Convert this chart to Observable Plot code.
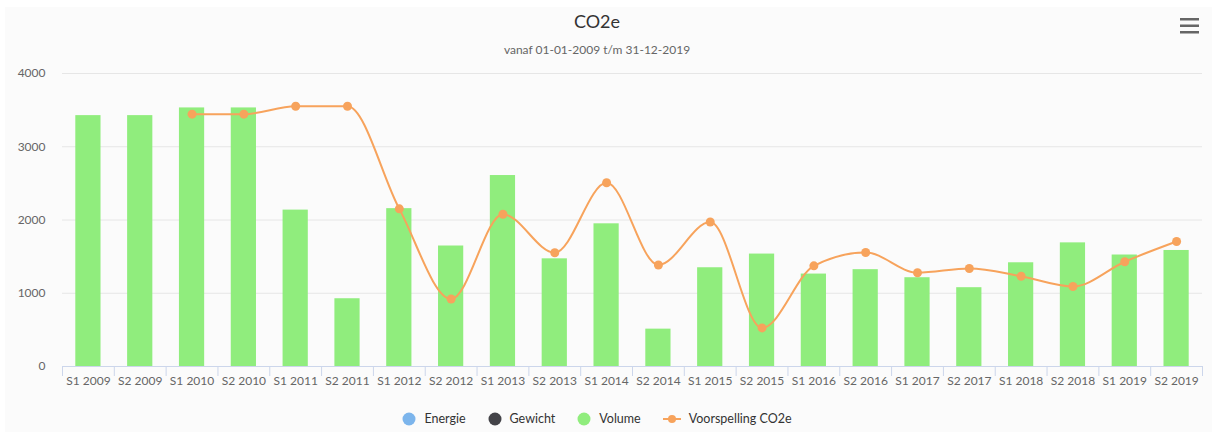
<!DOCTYPE html>
<html>
<head>
<meta charset="utf-8">
<script src="https://cdn.jsdelivr.net/npm/d3@7"></script>
<script src="https://cdn.jsdelivr.net/npm/@observablehq/plot@0.6"></script>
<style>
  html, body { margin: 0; padding: 0; background: #ffffff; width: 1212px; height: 432px; overflow: hidden; font-family: Lato, "Open Sans", sans-serif; }
  #frame { position: absolute; left: 5px; top: 7px; width: 1207px; height: 425px; background: #fbfbfb; }
  #title { position: absolute; left: 0; top: 10px; width: 1194px; text-align: center; font-size: 18px; color: #333333; }
  #subtitle { position: absolute; left: 0; top: 42px; width: 1194px; text-align: center; font-size: 12px; color: #666666; }
  #chart { position: absolute; left: 0; top: 60px; }
  #legend { position: absolute; left: 0; top: 411px; width: 1194px; display: flex; justify-content: center; align-items: center; font-size: 12.5px; color: #333333; }
  .item { display: flex; align-items: center; margin: 0 11px; }
  .item svg { margin-right: 8px; }
  #menu { position: absolute; left: 1180px; top: 17px; }
</style>
</head>
<body>
<div id="frame"></div>
<div id="title">CO2e</div>
<div id="subtitle">vanaf 01-01-2009 t/m 31-12-2019</div>
<svg id="menu" width="20" height="18"><rect x="0" y="1" width="19" height="2.5" fill="#666"/><rect x="0" y="7.5" width="19" height="2.5" fill="#666"/><rect x="0" y="14" width="19" height="2.5" fill="#666"/></svg>
<div id="chart"></div>
<div id="legend"></div>
<script>
const categories = ["S1 2009","S2 2009","S1 2010","S2 2010","S1 2011","S2 2011","S1 2012","S2 2012","S1 2013","S2 2013","S1 2014","S2 2014","S1 2015","S2 2015","S1 2016","S2 2016","S1 2017","S2 2017","S1 2018","S2 2018","S1 2019","S2 2019"];
const volume = [3425, 3425, 3530, 3530, 2135, 925, 2155, 1645, 2607, 1470, 1948, 510, 1348, 1535, 1262, 1322, 1212, 1076, 1416, 1688, 1522, 1584];
const forecast = [null, null, 3445, 3445, 3553, 3553, 2152, 922, 2078, 1553, 2508, 1386, 1972, 527, 1374, 1556, 1280, 1338, 1232, 1092, 1430, 1706];
const yTicks = [0, 1000, 2000, 3000, 4000];
const legendItems = [
  {name: "Energie", color: "#7cb5ec", type: "circle"},
  {name: "Gewicht", color: "#434348", type: "circle"},
  {name: "Volume", color: "#90ed7d", type: "circle"},
  {name: "Voorspelling CO2e", color: "#f7a35c", type: "line"}
];

const rows = categories.map((c, i) => ({cat: c, volume: volume[i]}));
const fRows = categories.map((c, i) => ({cat: c, value: forecast[i]})).filter(d => d.value != null);

const width = 1212, marginLeft = 62, marginRight = 10;
const bw = (width - marginLeft - marginRight) / categories.length;

const chart = Plot.plot({
  width, height: 340,
  marginTop: 13, marginBottom: 34, marginLeft, marginRight,
  style: {background: "transparent", fontFamily: "Lato, 'Open Sans', sans-serif", fontSize: "12px", overflow: "visible"},
  x: {type: "band", domain: categories, padding: 0, round: false, label: null},
  y: {domain: [0, 4000], label: null},
  marks: [
    Plot.ruleY(yTicks.slice(1), {stroke: "#e6e6e6", strokeWidth: 1}),
    Plot.barY(rows, {x: "cat", y: "volume", fill: "#90ed7d", insetLeft: 13.3, insetRight: 13.3}),
    Plot.ruleY([0], {stroke: "#ccd6eb"}),
    Plot.axisX({tickSize: 10, tickFormat: () => "", dx: -bw / 2, stroke: "#ccd6eb"}),
    Plot.axisX({ticks: [categories[categories.length - 1]], tickSize: 10, tickFormat: () => "", dx: bw / 2, stroke: "#ccd6eb"}),
    Plot.axisX({tickSize: 0, tickPadding: 10, fill: "#666666"}),
    Plot.axisY({ticks: yTicks, tickFormat: d => String(d), tickSize: 0, tickPadding: 17, fill: "#666666"}),
    Plot.line(fRows, {x: "cat", y: "value", stroke: "#f7a35c", strokeWidth: 2, curve: "monotone-x"}),
    Plot.dot(fRows, {x: "cat", y: "value", r: 4.5, fill: "#f7a35c"})
  ]
});
document.getElementById("chart").appendChild(chart);

const legend = document.getElementById("legend");
for (const it of legendItems) {
  const div = document.createElement("div");
  div.className = "item";
  const sym = it.type === "circle"
    ? `<svg width="14" height="14"><circle cx="7" cy="7" r="6.5" fill="${it.color}"/></svg>`
    : `<svg width="18" height="14"><line x1="0" y1="7" x2="18" y2="7" stroke="${it.color}" stroke-width="2"/><circle cx="9" cy="7" r="4" fill="${it.color}"/></svg>`;
  div.innerHTML = sym + `<span>${it.name}</span>`;
  legend.appendChild(div);
}
</script>
</body>
</html>
